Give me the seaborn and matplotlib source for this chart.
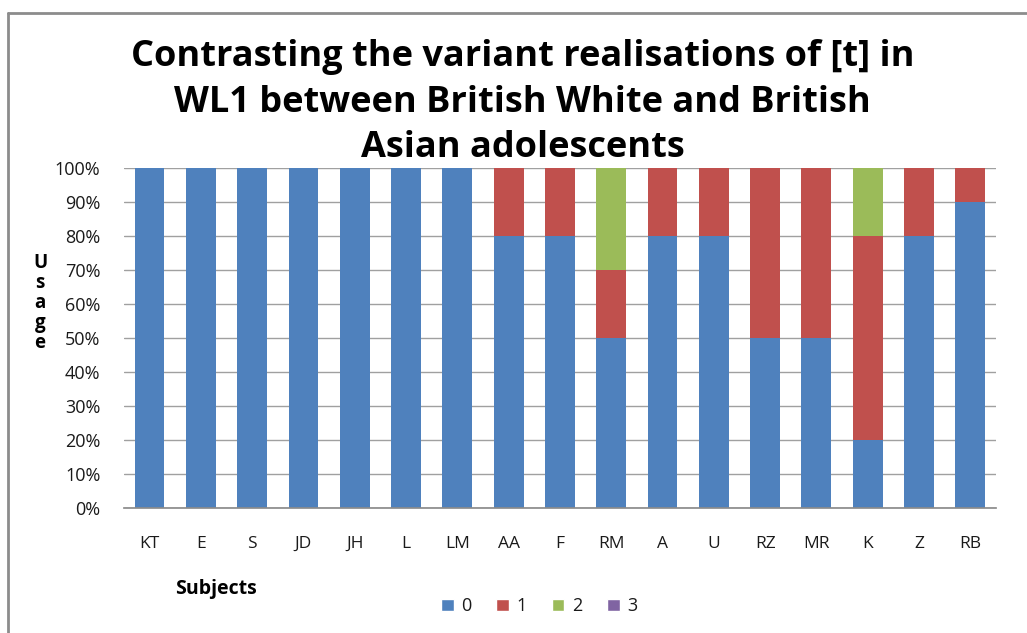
import numpy as np
import pandas as pd
import seaborn as sns
import matplotlib.pyplot as plt
from matplotlib.patches import Patch
from matplotlib.ticker import PercentFormatter

sns.set_theme(style="white")
plt.rcParams['font.family'] = ['Open Sans', 'DejaVu Sans']

# data (percent of usage per variant)
subjects = ["KT", "E", "S", "JD", "JH", "L", "LM", "AA", "F", "RM",
            "A", "U", "RZ", "MR", "K", "Z", "RB"]
v0 = [100, 100, 100, 100, 100, 100, 100, 80, 80, 50, 80, 80, 50, 50, 20, 80, 90]
v1 = [0, 0, 0, 0, 0, 0, 0, 20, 20, 20, 20, 20, 50, 50, 60, 20, 10]
v2 = [0, 0, 0, 0, 0, 0, 0, 0, 0, 30, 0, 0, 0, 0, 20, 0, 0]
v3 = [0] * 17

variants = ["0", "1", "2", "3"]
colors = ["#4F81BD", "#C0504D", "#9BBB59", "#8064A2"]

df = pd.DataFrame({"subject": subjects, "0": v0, "1": v1, "2": v2, "3": v3})
cum = df[variants].cumsum(axis=1)

fig = plt.figure(figsize=(10.27, 6.33), dpi=100)
ax = fig.add_axes([0.1207, 0.1975, 0.849, 0.537])

# stacked bars: draw cumulative totals from the top layer down
for var, col in reversed(list(zip(variants, colors))):
    sns.barplot(x=df["subject"], y=cum[var] / 100, color=col, width=0.58,
                saturation=1, linewidth=0, ax=ax, zorder=2)

ax.set_ylim(0, 1)
ax.set_xlim(-0.5, len(subjects) - 0.5)
ax.yaxis.set_major_formatter(PercentFormatter(1.0, decimals=0))
ax.set_yticks(np.arange(0, 1.01, 0.1))
ax.yaxis.grid(True, color="#A0A0A0", linewidth=1, zorder=0)
ax.set_axisbelow(True)
for s in ["top", "right", "left"]:
    ax.spines[s].set_visible(False)
ax.spines["bottom"].set_color("#8C8C8C")
ax.tick_params(axis="y", length=0, labelsize=13, pad=17, labelcolor="#1a1a1a")
ax.tick_params(axis="x", length=0, labelsize=12.5, pad=20, labelcolor="#1a1a1a")
ax.set_xlabel("")
ax.set_ylabel("")

fig.text(0.509, 0.838, "Contrasting the variant realisations of [t] in\n"
         "WL1 between British White and British\nAsian adolescents",
         ha="center", va="center", fontsize=26, fontweight="bold",
         linespacing=1.36, color="black")
fig.text(0.039, 0.522, "U\ns\na\ng\ne", ha="center", va="center",
         fontsize=13.5, fontweight="bold", linespacing=1.0, color="black")
fig.text(0.21, 0.07, "Subjects", ha="center", va="center",
         fontsize=14, fontweight="bold", color="black")

handles = [Patch(facecolor=c, label=v) for v, c in zip(variants, colors)]
fig.legend(handles=handles, loc="center", bbox_to_anchor=(0.525, 0.042),
           ncol=4, frameon=False, fontsize=13, handlelength=0.7,
           handleheight=0.7, handletextpad=0.4, columnspacing=1.4,
           labelcolor="#1a1a1a")

# outer chart border (left and top edges visible)
fig.add_artist(plt.Line2D([0.008, 0.008], [0, 0.979], color="#8C8C8C",
                          linewidth=2, transform=fig.transFigure))
fig.add_artist(plt.Line2D([0.008, 1], [0.979, 0.979], color="#8C8C8C",
                          linewidth=2, transform=fig.transFigure))

fig.savefig("out.png", dpi=100)
